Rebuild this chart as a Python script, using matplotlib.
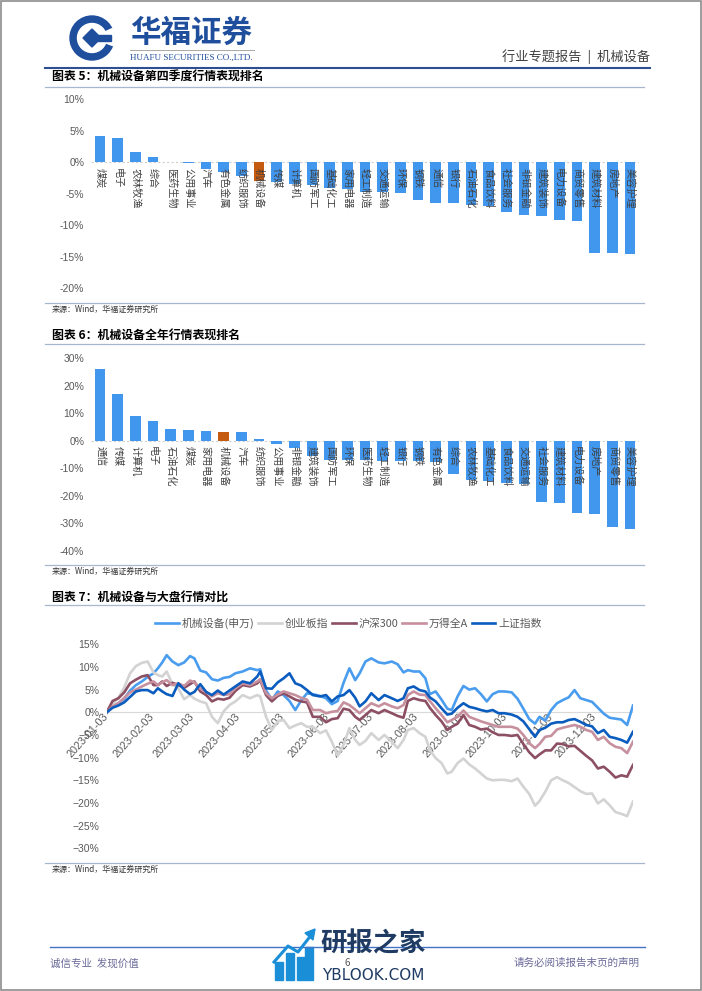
import matplotlib
matplotlib.use("Agg")
import matplotlib.pyplot as plt
from matplotlib.patches import Circle, Wedge, Polygon, Rectangle
import pandas as pd

plt.rcParams['font.family'] = ['Noto Sans CJK SC', 'DejaVu Sans']
plt.rcParams['axes.unicode_minus'] = False

W, H = 702, 991

# ---- 图表5 第四季度 ----
q4_labels = ["煤炭", "电子", "农林牧渔", "综合", "医药生物", "公用事业", "汽车", "有色金属",
             "纺织服饰", "机械设备", "传媒", "计算机", "国防军工", "基础化工", "家用电器",
             "轻工制造", "交通运输", "环保", "钢铁", "通信", "银行", "石油石化", "食品饮料",
             "社会服务", "非银金融", "建筑装饰", "电力设备", "商贸零售", "建筑材料", "房地产",
             "美容护理"]
q4_values = [4.2, 3.9, 1.7, 0.8, 0.05, -0.1, -1.0, -1.5, -2.2, -2.9, -3.1, -3.4, -3.6, -4.0,
             -4.3, -4.7, -4.7, -4.9, -6.0, -6.5, -6.5, -6.8, -7.0, -7.9, -8.3, -8.5, -9.2,
             -9.3, -14.4, -14.4, -14.5]

# ---- 图表6 全年 ----
year_labels = ["通信", "传媒", "计算机", "电子", "石油石化", "煤炭", "家用电器", "机械设备",
               "汽车", "纺织服饰", "公用事业", "非银金融", "建筑装饰", "国防军工", "环保",
               "医药生物", "轻工制造", "银行", "钢铁", "有色金属", "综合", "农林牧渔",
               "基础化工", "食品饮料", "交通运输", "社会服务", "建筑材料", "电力设备",
               "房地产", "商贸零售", "美容护理"]
year_values = [26.0, 17.0, 9.0, 7.2, 4.3, 4.0, 3.7, 3.3, 3.2, 0.5, -1.2, -2.7, -5.7, -7.0,
               -7.0, -7.0, -7.2, -7.3, -7.5, -7.7, -12.2, -14.3, -14.8, -15.2, -15.7, -22.1,
               -22.8, -26.3, -26.5, -31.4, -32.2]

# ---- 图表7 行情对比 ----
dates = ["2023-01-03", "2023-01-07", "2023-01-11", "2023-01-15", "2023-01-19", "2023-01-23",
         "2023-01-27", "2023-01-31", "2023-02-04", "2023-02-07", "2023-02-10", "2023-02-13",
         "2023-02-17", "2023-02-21", "2023-02-25", "2023-03-01", "2023-03-04", "2023-03-08",
         "2023-03-12", "2023-03-16", "2023-03-20", "2023-03-24", "2023-03-28", "2023-04-01",
         "2023-04-06", "2023-04-11", "2023-04-16", "2023-04-18", "2023-04-22", "2023-04-26",
         "2023-04-30", "2023-05-04", "2023-05-08", "2023-05-12", "2023-05-16", "2023-05-20",
         "2023-05-24", "2023-05-29", "2023-06-02", "2023-06-06", "2023-06-10", "2023-06-14",
         "2023-06-18", "2023-06-22", "2023-06-25", "2023-06-29", "2023-07-03", "2023-07-08",
         "2023-07-12", "2023-07-17", "2023-07-21", "2023-07-25", "2023-07-28", "2023-08-01",
         "2023-08-05", "2023-08-09", "2023-08-12", "2023-08-16", "2023-08-20", "2023-08-24",
         "2023-08-27", "2023-08-31", "2023-09-04", "2023-09-08", "2023-09-12", "2023-09-16",
         "2023-09-20", "2023-09-24", "2023-09-28", "2023-10-02", "2023-10-07", "2023-10-11",
         "2023-10-15", "2023-10-19", "2023-10-23", "2023-10-26", "2023-10-30", "2023-11-03",
         "2023-11-07", "2023-11-11", "2023-11-15", "2023-11-19", "2023-11-23", "2023-11-27",
         "2023-12-01", "2023-12-05", "2023-12-09", "2023-12-13", "2023-12-17", "2023-12-21",
         "2023-12-25", "2023-12-29"]

jixie = [0.0, 1.2, 2.0, 3.0, 4.8, 6.0, 6.8, 7.8,
         8.6, 9.7, 11.0, 12.6, 11.2, 10.4, 11.0,
         12.4, 11.9, 9.2, 8.8, 7.3, 7.0, 7.6, 7.8,
         8.6, 9.0, 9.7, 9.3, 9.5, 4.8, 2.8, 4.6,
         3.8, 2.5, 0.5, 2.6, 4.2, 4.0, 3.6,
         3.1, 1.8, 2.5, 6.5, 9.7, 7.1, 8.6, 11.2,
         11.9, 11.0, 10.8, 11.2, 10.6, 8.8, 9.3,
         9.0, 9.0, 7.5, 4.0, 4.6, 2.8, 0.8, 0.5, 3.5,
         5.8, 5.0, 5.3, 4.0, 2.4, 4.0, 4.6,
         4.6, 4.4, 3.0, 0.8, -1.5, -2.5, -1.0, -1.8,
         0.5, 2.0, 2.7, 3.3, 4.9, 3.1, 2.7,
         2.3, 1.0, -0.3, -1.2, -1.4, -1.6, -2.8, 1.5]

cyb = [-0.3, 1.8, 3.2, 5.5, 8.6, 10.2, 10.9, 11.2,
       8.8, 8.2, 7.9, 9.0, 6.2, 5.3, 2.9,
       3.8, 3.0, 2.4, 2.0, -1.0, -2.4, 0.2, 1.6,
       2.4, 3.8, 3.1, 3.8, 3.5, -1.0, -3.9, -2.0,
       -1.7, -3.5, -2.9, -2.4, -3.2, -3.2, -4.6,
       -4.0, -6.5, -9.6, -7.2, -3.5, -6.1, -7.2, -6.3,
       -4.6, -6.1, -5.0, -6.5, -7.9, -6.1, -3.9,
       -3.5, -4.6, -5.4, -8.3, -10.1, -11.2, -13.5, -13.1, -11.2,
       -10.2, -11.5, -12.4, -13.5, -14.6, -15.0, -14.9,
       -14.9, -15.2, -14.6, -16.4, -18.0, -20.6, -19.6, -17.5,
       -15.0, -14.3, -15.0, -15.6, -16.5, -17.4, -18.0,
       -17.9, -20.1, -19.2, -20.5, -22.0, -22.4, -22.9, -19.7]

hs300 = [0.0, 2.5, 3.1, 4.4, 6.4, 7.2, 7.9, 8.2,
         6.0, 6.0, 6.8, 5.8, 6.5, 6.0, 5.4,
         6.2, 6.8, 4.6, 3.8, 2.4, 3.0, 2.8, 3.2,
         4.7, 6.0, 5.7, 6.4, 7.1, 3.8, 2.4, 3.6,
         4.2, 3.5, 2.8, 2.4, 2.2, -1.0, -1.0,
         -2.2, -1.5, -1.3, 0.8, 0.5, -1.0, -1.7, -0.6,
         0.5, -0.2, 0.5, -0.2, -0.8, -1.2, 2.5,
         3.1, 2.7, 2.5, 1.0, -0.6, -2.0, -3.9, -3.2, -2.5,
         -0.6, -2.8, -3.2, -3.8, -3.6, -4.4, -5.0,
         -5.0, -5.2, -5.0, -7.0, -8.8, -10.1, -9.3, -8.4,
         -8.4, -6.9, -7.0, -7.5, -7.4, -8.5, -9.6,
         -10.6, -12.4, -12.0, -13.1, -14.4, -13.9, -14.2, -11.6]

wind_a = [0.0, 1.3, 2.0, 3.2, 4.4, 5.0, 5.7, 6.3,
          6.8, 6.0, 6.6, 7.1, 6.0, 6.4, 5.8,
          7.0, 6.6, 5.2, 4.5, 3.5, 4.2, 3.8, 4.0,
          5.3, 6.4, 6.0, 6.8, 7.3, 4.2, 3.1, 3.9,
          4.6, 4.2, 3.8, 3.2, 2.8, 0.5, 0.5,
          -0.2, 0.1, 0.3, 2.2, 1.6, 0.6, -0.2, 0.9,
          2.0, 1.3, 2.0, 1.3, 0.9, 1.6, 3.8,
          4.6, 3.9, 3.8, 2.5, 0.9, -0.6, -2.2, -1.7, -1.0,
          0.4, -1.0, -1.5, -2.0, -2.4, -2.8, -3.2,
          -3.2, -3.2, -3.6, -5.0, -6.8, -7.9, -7.0, -5.4,
          -5.2, -3.8, -3.4, -3.1, -2.8, -3.2, -3.9,
          -4.3, -6.1, -5.4, -6.8, -7.6, -7.9, -9.0, -6.5]

shangzheng = [0.0, 1.0, 1.5, 2.2, 3.4, 4.6, 4.9, 4.9,
              4.2, 5.3, 4.6, 4.0, 3.6, 6.4, 5.0,
              4.0, 4.5, 6.2, 4.5, 3.8, 4.8, 3.9, 4.8,
              5.7, 6.8, 6.4, 7.9, 9.0, 5.3, 5.2, 6.6,
              7.5, 8.6, 6.4, 5.9, 4.9, 3.8, 3.5,
              3.8, 2.4, 3.5, 3.8, 4.9, 3.2, 1.3, 2.4,
              4.2, 2.7, 3.8, 3.1, 2.5, 3.1, 5.3,
              5.7, 4.9, 4.6, 3.3, 2.4, 0.9, -0.5, -0.3, 1.0,
              2.0, 1.2, 0.9, 0.5, 0.2, 0.5, -0.2,
              -0.2, -0.5, -1.0, -2.0, -3.7, -5.4, -3.9, -3.4,
              -2.5, -2.2, -2.2, -1.7, -1.5, -2.1, -2.8,
              -3.1, -4.6, -3.9, -5.4, -5.7, -6.1, -6.7, -4.3]

series_names = ["机械设备(申万)", "创业板指", "沪深300", "万得全A", "上证指数"]
series_colors = ["#4A9DEE", "#D3D3D3", "#8C4F63", "#C7909F", "#0B5CBF"]

BLUE = "#4196EE"
HIGHLIGHT = "#C55A11"
TEXT = "#595959"


def box(l, t, r, b):
    return [l / W, 1 - b / H, (r - l) / W, (b - t) / H]


fig = plt.figure(figsize=(W / 100, H / 100), dpi=100)
deco = fig.add_axes([0, 0, 1, 1])
deco.set_xlim(0, W)
deco.set_ylim(H, 0)
deco.axis('off')

# page frame
deco.add_patch(Rectangle((0.8, 0.8), W - 1.6, H - 1.6, fill=False, ec='#8c8c8c', lw=1.2))

# logo
cx, cy = 92, 38
navy = '#1F4E9D'
deco.add_patch(Circle((cx, cy), 22, color=navy))
deco.add_patch(Circle((cx, cy), 14.5, color='white'))
deco.add_patch(Wedge((cx, cy), 22.5, -25, 20, width=8.5, color='white'))
deco.add_patch(Polygon([(cx - 9, cy), (cx, cy - 9), (cx + 9, cy), (cx, cy + 9)], color=navy))
deco.add_patch(Rectangle((cx, cy - 3), 19, 6, color=navy))
deco.text(130, 33, "华福证券", fontsize=22, fontweight='bold', color=navy, va='center', ha='left')
deco.plot([130, 254], [50, 50], color='#9a9a9a', lw=0.6)
deco.text(130, 57.5, "HUAFU SECURITIES CO.,LTD.", fontsize=6.5, color=navy,
          family='Liberation Serif', va='center', ha='left')
deco.text(650, 57, "行业专题报告  |  机械设备", fontsize=9.5, color='#404040', va='center', ha='right')
deco.plot([45, 650], [67.5, 67.5], color='#2E4F8F', lw=1.5)


def section(title, title_y, top_line, bottom_line, source_y):
    deco.text(52, title_y, title, fontsize=8.6, fontweight='bold', color='black', va='center', ha='left')
    deco.plot([45, 644], [top_line, top_line], color='#A9B6D0', lw=0.9)
    deco.plot([45, 644], [bottom_line, bottom_line], color='#A9B6D0', lw=0.9)
    deco.text(52, source_y, "来源：Wind，华福证券研究所", fontsize=5.8, color='#333333',
              va='center', ha='left')


section("图表 5：机械设备第四季度行情表现排名", 76, 86.5, 302.5, 309)
section("图表 6：机械设备全年行情表现排名", 335, 343.5, 565, 571)
section("图表 7：机械设备与大盘行情对比", 597, 605, 862.5, 869)


def bar_chart(rect, labels, values, lo, hi, step):
    ax = fig.add_axes(rect)
    ax.patch.set_visible(False)
    x = list(range(len(labels)))
    colors = [HIGHLIGHT if lab == "机械设备" else BLUE for lab in labels]
    ax.bar(x, values, width=0.6, color=colors, zorder=2)
    ax.axhline(0, color='#cfcfcf', lw=0.8, ls=(0, (2, 2)), zorder=1)
    ax.set_xlim(-0.5, len(labels) - 0.5)
    ax.set_ylim(lo, hi)
    ticks = list(range(lo, hi + 1, step))
    ax.set_yticks(ticks, [f"{t}%" for t in ticks])
    ax.tick_params(axis='y', length=0, pad=5, labelsize=7.5, labelcolor=TEXT)
    for lab in ax.get_yticklabels():
        lab.set_family('Liberation Sans')
    ax.set_xticks([])
    for s in ax.spines.values():
        s.set_visible(False)
    for i, lab in enumerate(labels):
        ax.annotate(lab, (i, 0), xytext=(0, -4), textcoords='offset points', rotation=-90,
                    ha='center', va='top', fontsize=7.3, color='#404040', zorder=3)
    return ax


bar_chart(box(91.2, 99.3, 638.8, 288.3), q4_labels, q4_values, -20, 10, 5)
bar_chart(box(91.2, 358.3, 638.8, 550.7), year_labels, year_values, -40, 30, 10)

# line chart
ax3 = fig.add_axes(box(106.7, 644.3, 633.0, 848.3))
ax3.patch.set_visible(False)
d = pd.to_datetime(dates)
ax3.axhline(0, color='#d9d9d9', lw=0.8, zorder=0)
for name, vals, col in zip(series_names, [jixie, cyb, hs300, wind_a, shangzheng], series_colors):
    ax3.plot(d, vals, color=col, lw=1.9, label=name, solid_joinstyle='round')
ax3.set_xlim(d[0], d[-1])
ax3.set_ylim(-30, 15)
yt = list(range(-30, 16, 5))
ax3.set_yticks(yt, [f"{t}%".replace('-', '\u2212') for t in yt])
ax3.tick_params(axis='y', length=0, pad=5.3, labelsize=7.5, labelcolor=TEXT)
xt = pd.date_range("2023-01-03", periods=12, freq=pd.DateOffset(months=1))
ax3.set_xticks(xt, [t.strftime("%Y-%m-%d") for t in xt])
ax3.spines['bottom'].set_position(('data', 0))
for s in ax3.spines.values():
    s.set_visible(False)
ax3.tick_params(axis='x', length=0, pad=2, labelsize=7.8, labelcolor=TEXT)
for lab in ax3.get_xticklabels() + ax3.get_yticklabels():
    lab.set_family('Liberation Sans')
plt.setp(ax3.get_xticklabels(), rotation=48, ha='right', va='center', rotation_mode='anchor')
leg = ax3.legend(loc='center', bbox_to_anchor=(348.5 / W, 1 - 623.5 / H),
                 bbox_transform=fig.transFigure, ncol=5, frameon=False, fontsize=7.8,
                 handlelength=2.2, handletextpad=0.3, columnspacing=0.3, borderaxespad=0)
for t in leg.get_texts():
    t.set_color(TEXT)

# footer
deco.plot([50, 645], [947, 947], color='#4472C4', lw=1.0)
deco.text(50, 963, "诚信专业  发现价值", fontsize=7.6, color='#6b6b9a', va='center', ha='left')
deco.text(640, 963, "请务必阅读报告末页的声明", fontsize=7.6, color='#6b6b9a', va='center', ha='right')
deco.text(347, 963, "6", fontsize=7, color='#555555', va='center', ha='center')

# watermark
wm = '#1A8FD8'
for bx, top in [(275, 962), (286, 953), (297, 957), (305, 947)]:
    deco.add_patch(Rectangle((bx, top), 8, 980 - top, color=wm))
deco.plot([274, 288, 298, 312], [962, 946, 952, 934], color=wm, lw=2.2)
deco.add_patch(Polygon([(315, 929), (305, 933), (313, 940)], color=wm))
deco.text(373, 944, "研报之家", fontsize=19, fontweight='bold', color='#1f3b63', va='center', ha='center')
deco.text(373, 975, "YBLOOK.COM", fontsize=11, color='#1f3b63', va='center', ha='center',
          family='DejaVu Sans')

fig.savefig("out.png", dpi=100)
